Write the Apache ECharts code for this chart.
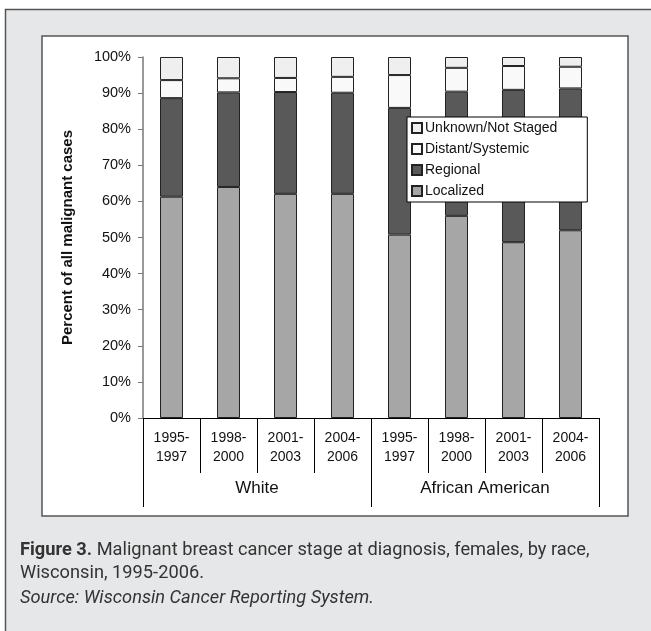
<!DOCTYPE html>
<html>
<head>
<meta charset="utf-8">
<script src="https://cdn.jsdelivr.net/npm/echarts@6/dist/echarts.min.js"></script>
<style>
  html, body { margin: 0; padding: 0; background: #fff; }
  #chart { width: 651px; height: 631px; }
</style>
</head>
<body>
<div id="chart"></div>
<script>
// periods and race groups
const periods = ['1995-\n1997', '1998-\n2000', '2001-\n2003', '2004-\n2006',
                 '1995-\n1997', '1998-\n2000', '2001-\n2003', '2004-\n2006'];
const groups = ['White', 'African American'];

// stage shares, percent
const localized = [61.3, 64.0, 62.1, 62.1, 50.8, 56.0, 48.7, 52.0];
const regional  = [27.3, 26.2, 28.2, 28.0, 35.1, 34.4, 42.2, 39.3];
const distant   = [5.0, 3.9, 3.9, 4.4, 9.1, 6.6, 6.6, 6.0];
const unknown   = [6.4, 5.9, 5.8, 5.5, 5.0, 3.0, 2.5, 2.7];

const yTicks = [0, 100, 10]; // min, max, step

const FONT = '"Liberation Sans", Arial, sans-serif';

const chart = echarts.init(document.getElementById('chart'));

const bar = (name, data, color) => ({
    name: name,
    type: 'bar',
    stack: 'stage',
    barWidth: 23,
    data: data,
    itemStyle: { color: color, borderColor: '#222', borderWidth: 1 }
});

const option = {
    animation: false,
    textStyle: { fontFamily: FONT },
    graphic: [
        {   // outer grey panel
            type: 'rect', z: -10,
            shape: { x: 5.5, y: 9.5, width: 700, height: 700 },
            style: { fill: '#e6e7e8', stroke: '#555', lineWidth: 1.5 }
        },
        {   // white chart frame
            type: 'rect', z: -9,
            shape: { x: 42, y: 36, width: 586, height: 480 },
            style: { fill: '#fff', stroke: '#555', lineWidth: 1.5 }
        },
        {
            type: 'text', x: 20, y: 541, scaleX: 0.96,
            style: {
                text: '{b|Figure 3.} Malignant breast cancer stage at diagnosis, females, by race,',
                font: '19px Roboto', fill: '#333',
                rich: { b: { font: 'bold 19px Roboto', fill: '#333' } }
            }
        },
        {
            type: 'text', x: 20, y: 564, scaleX: 0.96,
            style: { text: 'Wisconsin, 1995-2006.', font: '19px Roboto', fill: '#333' }
        },
        {
            type: 'text', x: 20, y: 589, scaleX: 0.96,
            style: { text: 'Source: Wisconsin Cancer Reporting System.', font: 'italic 19px Roboto', fill: '#333' }
        }
    ],
    legend: {
        orient: 'vertical',
        left: 407, top: 117,
        padding: [4, 30, 4, 4],
        itemGap: 7,
        itemWidth: 10, itemHeight: 10,
        backgroundColor: '#fff',
        borderColor: '#000', borderWidth: 1,
        borderRadius: 0,
        textStyle: { fontFamily: FONT, fontSize: 14, color: '#111', padding: [0, 0, 0, -2] },
        data: ['Unknown/Not Staged', 'Distant/Systemic', 'Regional', 'Localized'],
        icon: 'rect'
    },
    grid: { left: 143, right: 52, top: 57, bottom: 213 },
    xAxis: [
        {
            type: 'category',
            data: periods,
            axisLine: { show: true, lineStyle: { color: '#000', width: 1 } },
            axisTick: { show: true, length: 55, interval: 0, lineStyle: { color: '#000' } },
            axisLabel: { interval: 0, fontFamily: FONT, fontSize: 14, color: '#111', lineHeight: 19, margin: 11 }
        },
        {
            type: 'category',
            data: groups,
            position: 'bottom',
            axisLine: { show: false },
            axisTick: { show: true, length: 89, interval: 0, lineStyle: { color: '#000' } },
            axisLabel: { fontFamily: FONT, fontSize: 17, color: '#111', margin: 62 }
        }
    ],
    yAxis: {
        type: 'value',
        min: yTicks[0], max: yTicks[1], interval: yTicks[2],
        name: 'Percent of all malignant cases',
        nameLocation: 'middle',
        nameGap: 68,
        nameTextStyle: { fontFamily: FONT, fontSize: 15, fontWeight: 'bold', color: '#111' },
        axisLine: { show: true, lineStyle: { color: '#777', width: 1.5 } },
        axisTick: { show: true, length: 5, lineStyle: { color: '#777' } },
        axisLabel: { formatter: '{value}%', fontFamily: FONT, fontSize: 14.5, color: '#111', margin: 12 },
        splitLine: { show: false }
    },
    series: [
        bar('Localized', localized, '#a6a6a6'),
        bar('Regional', regional, '#595959'),
        bar('Distant/Systemic', distant, '#f9f9f9'),
        bar('Unknown/Not Staged', unknown, '#efefef')
    ]
};

chart.setOption(option);
</script>
</body>
</html>
